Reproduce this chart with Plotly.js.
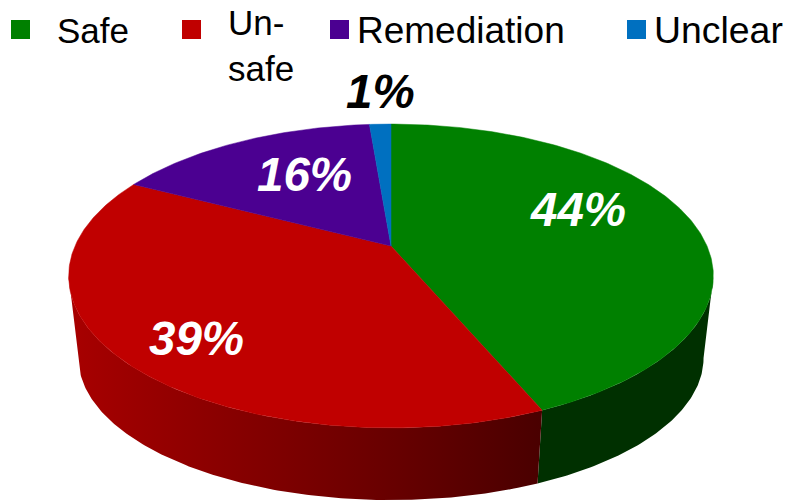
<!DOCTYPE html>
<html><head><meta charset="utf-8">
<script src="https://cdn.plot.ly/plotly-3.0.1.min.js"></script>
<style>html,body{margin:0;padding:0;background:#fff}#c{width:787px;height:500px}</style>
</head><body><div id="c"></div>
<script>
// Data
const categories = ['Safe', 'Unsafe', 'Remediation', 'Unclear'];
const legendLabels = ['Safe', 'Un-<br>safe', 'Remediation', 'Unclear'];
const shares = [43.6, 39.0, 16.1, 1.3];
const sliceLabels = ['44%', '39%', '16%', '1%'];

// Style
const topColors = ['#008000', '#C00000', '#4B0091', '#0070C0'];
const wallStops = [[[0, '#003000'], [1, '#003000']], [[0, '#A80000'], [1, '#4A0000']], null, null];
const labelColors = ['#fff', '#fff', '#fff', '#000'];
const labelX = [578, 196, 304.5, 380];
const labelY = [209, 338, 174, 91];
const legendKeyX = [20.5, 191.5, 339.5, 636.5];
const legendTextX = [54.5, 225.5, 355, 652];
const legendSize = [35, 35, 37, 37.4];

// Perspective geometry of the disc
const top_ = {cx: 391, cy: 246, rx: 316, ry: 146, k: 0.1974};
const base = {cx: 391, cy: 330, rx: 306.4, ry: 136.5, k: 0.1974};
const project = (g, deg) => {
  const t = deg * Math.PI / 180, s = 1 / (1 + g.k * Math.cos(t));
  return [g.cx + g.rx * Math.sin(t) * s, g.cy - g.ry * Math.cos(t) * s];
};
const arc = (g, a, b) => {
  const n = Math.max(2, Math.ceil(Math.abs(b - a) * 1.5)), p = [];
  for (let i = 0; i <= n; i++) p.push(project(g, a + (b - a) * i / n));
  return p;
};
const total = shares.reduce((a, b) => a + b, 0);
let acc = 0;
const bounds = shares.map(v => { const a = acc; acc += v; return [a / total * 360, acc / total * 360]; });
const silhouette = Math.acos(-top_.k) * 180 / Math.PI;

const traces = [];
// Walls
bounds.forEach(([a, b], i) => {
  if (!wallStops[i]) return;
  const lo = Math.max(a, silhouette), hi = Math.min(b, 360 - silhouette);
  const pts = arc(top_, lo, hi).concat(arc(base, hi, lo));
  traces.push({
    type: 'scatter', mode: 'lines', name: categories[i] + ' side',
    x: pts.map(p => p[0]), y: pts.map(p => p[1]),
    fill: 'toself', line: {width: 0}, hoverinfo: 'skip', showlegend: false,
    fillgradient: {type: 'horizontal', colorscale: wallStops[i], start: 68, stop: 540}
  });
});
// Top faces
bounds.forEach(([a, b], i) => {
  const pts = [[top_.cx, top_.cy]].concat(arc(top_, a, b));
  pts.push([top_.cx, top_.cy]);
  traces.push({
    type: 'scatter', mode: 'lines', name: categories[i],
    x: pts.map(p => p[0]), y: pts.map(p => p[1]),
    fill: 'toself', fillcolor: topColors[i], line: {width: 0.5, color: topColors[i]},
    hoverinfo: 'name', showlegend: false
  });
});
// Legend keys
categories.forEach((c, i) => traces.push({
  type: 'scatter', mode: 'markers', name: c, x: [legendKeyX[i]], y: [29.5],
  marker: {symbol: 'square', size: 19, color: topColors[i], line: {width: 0}},
  hoverinfo: 'name', showlegend: false
}));

const annotations = [];
sliceLabels.forEach((t, i) => annotations.push({
  x: labelX[i], y: labelY[i], text: '<b><i>' + t + '</i></b>', showarrow: false,
  xanchor: 'center', yanchor: 'middle',
  font: {family: 'Liberation Sans, Arial, sans-serif', size: 47.5, color: labelColors[i]}
}));
legendLabels.forEach((t, i) => annotations.push({
  x: legendTextX[i], y: i === 1 ? 45 : 30, text: t, showarrow: false,
  xanchor: 'left', yanchor: 'middle', align: 'left',
  font: {family: 'Liberation Sans, Arial, sans-serif', size: legendSize[i], color: '#000'}
}));

Plotly.newPlot('c', traces, {
  width: 787, height: 500,
  margin: {l: 0, r: 0, t: 0, b: 0},
  paper_bgcolor: '#fff', plot_bgcolor: '#fff',
  showlegend: false,
  xaxis: {range: [0, 787], visible: false, fixedrange: true},
  yaxis: {range: [500, 0], visible: false, fixedrange: true},
  annotations
}, {displayModeBar: false, staticPlot: true});
</script></body></html>
